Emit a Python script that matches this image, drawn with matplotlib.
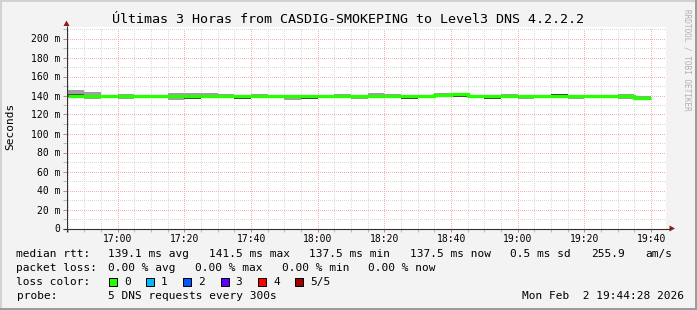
import matplotlib
matplotlib.use("Agg")
import matplotlib.pyplot as plt
from matplotlib.patches import Rectangle, Polygon

# ---------------- data ----------------
title = "Últimas 3 Horas from CASDIG-SMOKEPING to Level3 DNS 4.2.2.2"
view_start = "16:44:28"
view_end = "19:44:28"

interval_start = ["16:45", "16:50", "16:55", "17:00", "17:05", "17:10", "17:15",
                  "17:20", "17:25", "17:30", "17:35", "17:40", "17:45", "17:50",
                  "17:55", "18:00", "18:05", "18:10", "18:15", "18:20", "18:25",
                  "18:30", "18:35", "18:40", "18:45", "18:50", "18:55", "19:00",
                  "19:05", "19:10", "19:15", "19:20", "19:25", "19:30", "19:35"]
data_end = "19:40"

median_ms = [139.2, 139.1, 139.1, 139.1, 139.1, 139.1, 139.1, 139.1, 139.1, 139.1,
             139.1, 139.1, 139.1, 139.1, 139.1, 139.1, 139.1, 139.1, 139.1, 139.1,
             139.1, 139.1, 141.0, 141.5, 139.1, 139.1, 139.1, 139.1, 139.1, 139.1,
             139.1, 139.1, 139.1, 139.0, 137.5]
smoke_lo = [138.8, 136.8, 138.2, 136.8, 138.3, 138.3, 135.5, 136.6, 138.0, 138.2,
            136.6, 138.3, 138.2, 135.4, 136.6, 138.2, 138.3, 136.7, 138.4, 138.3,
            136.6, 138.2, 138.6, 138.8, 138.3, 136.6, 138.3, 136.8, 138.2, 138.4,
            136.7, 138.3, 138.3, 135.9, 136.3]
smoke_hi = [145.3, 143.9, 140.3, 141.5, 140.4, 140.5, 142.5, 142.6, 142.6, 141.6,
            140.3, 141.6, 140.3, 140.2, 140.2, 140.3, 141.6, 140.2, 142.4, 141.6,
            140.0, 140.2, 142.2, 142.8, 140.3, 140.0, 141.6, 140.2, 140.3, 141.8,
            140.2, 140.2, 140.2, 141.6, 139.4]
inner_lo = [138.9, 138.0, 138.6, 138.2, 138.7, 138.7, 137.9, 136.6, 138.3, 138.5,
            136.6, 138.6, 138.5, 137.8, 136.6, 138.5, 138.6, 137.8, 138.7, 138.6,
            136.6, 138.5, 138.6, 138.8, 138.6, 136.6, 138.6, 137.8, 138.5, 138.7,
            137.8, 138.5, 138.5, 137.8, 136.3]
inner_hi = [142.0, 140.5, 139.8, 140.2, 139.8, 139.8, 140.3, 140.2, 140.3, 140.2,
            139.8, 140.2, 139.6, 139.8, 139.7, 139.7, 140.2, 139.8, 140.4, 140.3,
            139.6, 139.7, 141.8, 142.3, 139.7, 139.6, 140.2, 139.7, 139.7, 141.8,
            139.8, 139.7, 139.7, 140.2, 138.8]

x_tick_labels = ["17:00", "17:20", "17:40", "18:00", "18:20", "18:40", "19:00", "19:20", "19:40"]
y_major = [0, 20, 40, 60, 80, 100, 120, 140, 160, 180, 200]
y_minor = [10, 30, 50, 70, 90, 110, 130, 150, 170, 190, 210]

legend_rtt = [("median rtt:", 16.5), ("139.1 ms avg", 108), ("141.5 ms max", 208.7),
              ("137.5 ms min", 309.2), ("137.5 ms now", 409.7), ("0.5 ms sd", 510.3),
              ("255.9", 591), ("am/s", 645.7)]
legend_loss = [("packet loss:", 16.5), ("0.00 % avg", 108), ("0.00 % max", 195.3),
               ("0.00 % min", 281.5), ("0.00 % now", 368)]
loss_labels = ["0", "1", "2", "3", "4", "5/5"]
loss_colors = ["#26ff00", "#00b8ff", "#0059ff", "#5e00ff", "#ff0000", "#a00000"]
probe_text = "5 DNS requests every 300s"
date_text = "Mon Feb  2 19:44:28 2026"
watermark = "RRDTOOL / TOBI OETIKER"


def to_min(s):
    parts = [int(p) for p in s.split(":")]
    v = parts[0] * 60 + parts[1]
    if len(parts) > 2:
        v += parts[2] / 60.0
    return v


# ---------------- figure ----------------
W, H, DPI = 697, 310, 100
MONO = "DejaVu Sans Mono"
fig = plt.figure(figsize=(W / DPI, H / DPI), dpi=DPI)
fig.patch.set_facecolor("#f3f3f3")

PX_PER_MS = 0.95
ax_left, ax_right = 66.0, 666.0
ax_bottom_px, ax_top_px = 228.5, 27.3
ax = fig.add_axes([ax_left / W, (H - ax_bottom_px) / H, (ax_right - ax_left) / W,
                   (ax_bottom_px - ax_top_px) / H])
ax.set_facecolor("white")
ax.set_xlim(to_min(view_start), to_min(view_end))
ax.set_ylim(0, (ax_bottom_px - ax_top_px) / PX_PER_MS)
for sp in ax.spines.values():
    sp.set_visible(False)

starts = [to_min(s) for s in interval_start]
edges = starts + [to_min(data_end)]
widths = [edges[i + 1] - edges[i] for i in range(len(starts))]

# smoke
ax.bar(starts, [h - l for h, l in zip(smoke_hi, smoke_lo)], bottom=smoke_lo,
       width=widths, align="edge", color="#a0a0a0", linewidth=0, zorder=3)
ax.bar(starts, [h - l for h, l in zip(inner_hi, inner_lo)], bottom=inner_lo,
       width=widths, align="edge", color="#3a3a3a", linewidth=0, zorder=4)
# median line
ax.step(edges, median_ms + [median_ms[-1]], where="post", color="#26ff00",
        lw=2.4, solid_capstyle="butt", solid_joinstyle="miter", zorder=5)

# ticks / grid
ax.set_xticks([to_min(t) for t in x_tick_labels])
ax.set_xticklabels(x_tick_labels)
ax.set_xticks(edges, minor=True)
ax.set_yticks(y_major)
ax.set_yticklabels([("%d m" % v) if v else "0" for v in y_major])
ax.set_yticks(y_minor, minor=True)
ax.set_axisbelow(True)
ax.grid(which="major", color="#f5b4b4", lw=0.72, linestyle=(0, (1, 1.6)),
        antialiased=False, zorder=1)
ax.grid(which="minor", color="#d8d8d8", lw=0.72, linestyle=(0, (1, 1.6)),
        antialiased=False, zorder=1)
ax.tick_params(which="major", direction="out", length=2.5, width=0.72, color="#d08080",
               labelsize=7, pad=1.8, labelcolor="black")
ax.tick_params(which="minor", direction="out", length=2.0, width=0.72, color="#b8b8b8")
for lab in ax.get_xticklabels() + ax.get_yticklabels():
    lab.set_family(MONO)

# ---------------- overlay (pixel coordinates) ----------------
ov = fig.add_axes([0, 0, 1, 1], zorder=10)
ov.set_xlim(0, W)
ov.set_ylim(H, 0)
ov.axis("off")
ov.patch.set_alpha(0)

# frame
ov.add_patch(Rectangle((0, 0), W, 2, color="#d2d2d2", lw=0))
ov.add_patch(Rectangle((0, 0), 2, H, color="#d2d2d2", lw=0))
ov.add_patch(Rectangle((W - 2.5, 0), 2.5, H, color="#9c9c9c", lw=0))
ov.add_patch(Rectangle((0, H - 2.5), W, 2.5, color="#9c9c9c", lw=0))

# axes lines + arrows
ov.plot([62.5, 670], [228.5, 228.5], color="#303030", lw=0.8, solid_capstyle="butt")
ov.plot([66.5, 66.5], [232, 25.5], color="#303030", lw=0.8, solid_capstyle="butt")
ov.add_patch(Polygon([[669.5, 225.5], [669.5, 231.5], [675, 228.5]], closed=True,
                     color="#8c1c1c", lw=0))
ov.add_patch(Polygon([[63.5, 26], [69.5, 26], [66.5, 20.5]], closed=True,
                     color="#8c1c1c", lw=0))

# title, y label, watermark
ov.text(348.5, 19.5, title, ha="center", va="center", fontsize=9.6, family=MONO)
ov.text(10.5, 126.7, "Seconds", rotation=90, ha="center", va="center", fontsize=8,
        family=MONO)
ov.text(687.5, 60, watermark, rotation=-90, ha="center", va="center", fontsize=5.6,
        family=MONO, color="#b0b0b0")

# legend (baseline aligned)
LY = [254.5, 268.5, 282.3, 296.5]
BO = 2.9
for txt, x in legend_rtt:
    ov.text(x, LY[0] + BO, txt, ha="left", va="baseline", fontsize=8, family=MONO)
for txt, x in legend_loss:
    ov.text(x, LY[1] + BO, txt, ha="left", va="baseline", fontsize=8, family=MONO)
ov.text(16.5, LY[2] + BO, "loss color:", ha="left", va="baseline", fontsize=8, family=MONO)
box_x = [109, 146, 183, 220.5, 258, 295]
for bx, lab, col in zip(box_x, loss_labels, loss_colors):
    ov.add_patch(Rectangle((bx, LY[2] - 4), 8, 8, facecolor=col, edgecolor="black", lw=0.72))
    ov.text(bx + 15, LY[2] + BO, lab, ha="left", va="baseline", fontsize=8, family=MONO)
ov.text(16.5, LY[3] + BO, "probe:", ha="left", va="baseline", fontsize=8, family=MONO)
ov.text(108, LY[3] + BO, probe_text, ha="left", va="baseline", fontsize=8, family=MONO)
ov.text(683.5, LY[3] + BO, date_text, ha="right", va="baseline", fontsize=8, family=MONO)

fig.savefig("out.png", dpi=DPI, facecolor=fig.get_facecolor())
